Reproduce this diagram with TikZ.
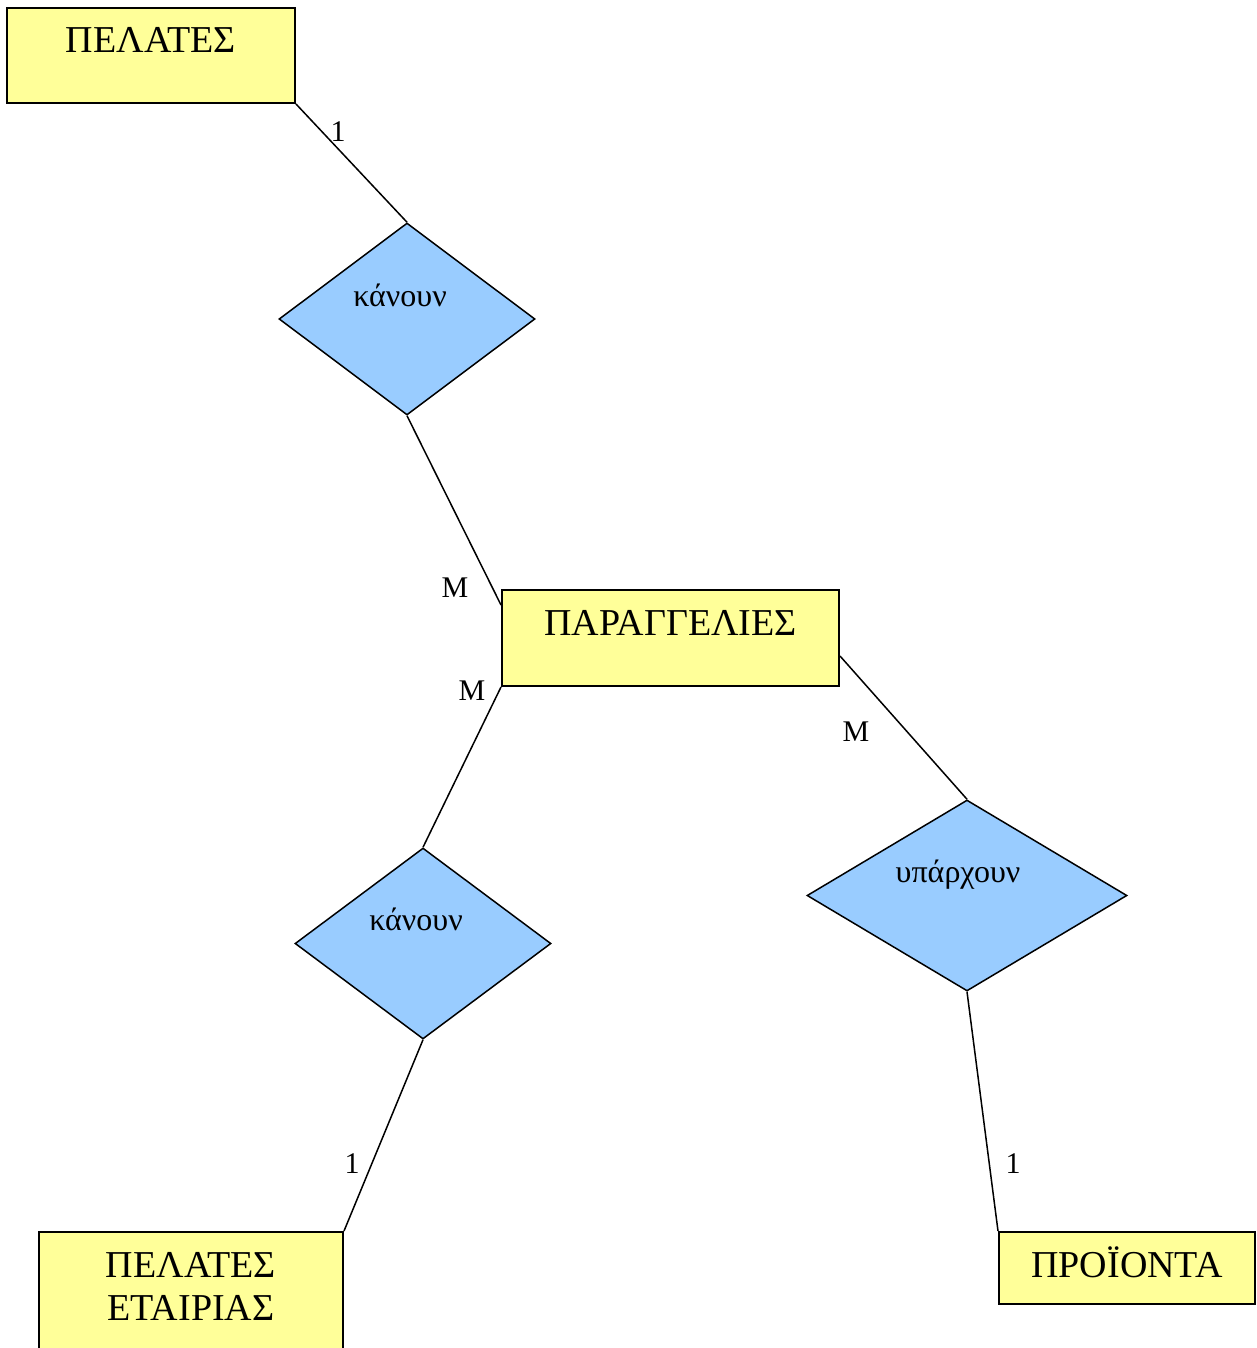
\documentclass[tikz,border=0pt]{standalone}
\usepackage{fontspec}
\setmainfont{Liberation Serif}
\usetikzlibrary{shapes.geometric}
\definecolor{entfill}{HTML}{FFFF99}
\definecolor{relfill}{HTML}{99CCFF}
\tikzset{
  entity/.style={draw=black, line width=1pt, fill=entfill, rectangle,
    inner sep=0pt, font=\fontsize{19}{21.5}\selectfont},
  relation/.style={draw=black, line width=0.75pt, fill=relfill, diamond,
    inner sep=0pt, text height=2pt, text depth=15pt,
    font=\fontsize{16}{19}\selectfont},
  link/.style={draw=black, line width=0.75pt},
  card/.style={inner sep=0pt, font=\fontsize{15}{18}\selectfont},
}
\begin{document}
\begin{tikzpicture}[x=0.5pt,y=-0.5pt]
\useasboundingbox (0,0) rectangle (1257,1348);
\clip (0,0) rectangle (1257,1348);

% entities
\node[entity, minimum width=144pt, minimum height=47.5pt,
      text height=22.5pt, text depth=25pt] (pel) at (151,55.5) {ΠΕΛΑΤΕΣ};
\node[entity, minimum width=168.5pt, minimum height=48pt,
      text height=22.5pt, text depth=25.5pt] (par) at (670.5,638) {ΠΑΡΑΓΓΕΛΙΕΣ};
\node[entity, minimum width=152pt, minimum height=74pt,
      text height=22.5pt, text depth=51.5pt] (pe) at (191,1306)
      {\begin{tabular}[t]{@{}c@{}}ΠΕΛΑΤΕΣ\\ΕΤΑΙΡΙΑΣ\end{tabular}};
\node[entity, minimum width=128pt, minimum height=36pt,
      text height=22.5pt, text depth=13.5pt] (pro) at (1127,1268) {ΠΡΟΪΟΝΤΑ};

% relationships (labels sit a little left of centre)
\node[relation, minimum width=128pt, minimum height=96pt] (d1) at (407,319)
      {κάνουν\hspace*{7pt}};
\node[relation, minimum width=128pt, minimum height=95.5pt] (d2) at (423,943.5)
      {κάνουν\hspace*{7pt}};
\node[relation, minimum width=160pt, minimum height=95.5pt] (d3) at (967,895.5)
      {υπάρχουν\hspace*{9pt}};

% connectors
\draw[link] (pel.south east) -- (d1.north);
\draw[link] (d1.south) -- ([yshift=-8pt]par.north west);
\draw[link] (par.south west) -- (d2.north);
\draw[link] ([yshift=-33.5pt]par.north east) -- (d3.north);
\draw[link] (d2.south) -- (pe.north east);
\draw[link] (d3.south) -- (pro.north west);

% cardinalities
\node[card] (c1) at (338,132) {1};
\node[card] (c2) at (455,588) {M};
\node[card] (c3) at (472,691) {M};
\node[card] (c4) at (856,732) {M};
\node[card] (c5) at (352,1164) {1};
\node[card] (c6) at (1013,1164) {1};
\end{tikzpicture}
\end{document}
